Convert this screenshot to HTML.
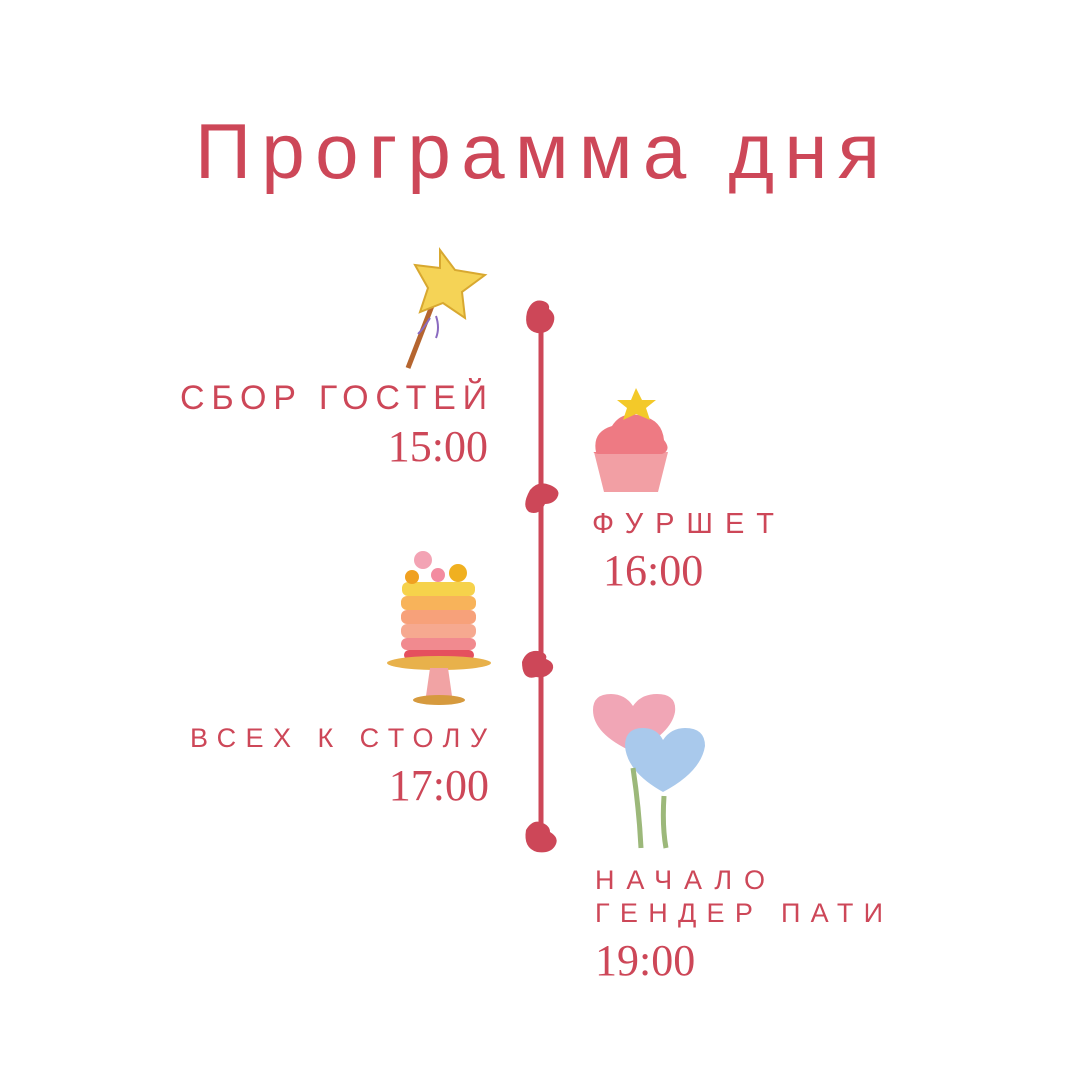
<!DOCTYPE html>
<html><head><meta charset="utf-8"><style>html,body{margin:0;padding:0;background:#fff}</style></head>
<body>
<svg width="1080" height="1080" viewBox="0 0 1080 1080" xmlns="http://www.w3.org/2000/svg">
<rect width="1080" height="1080" fill="#fff"/>
<g fill="#cd4758" font-family="Liberation Sans, sans-serif">
<text x="195" y="178" font-size="78" textLength="685" lengthAdjust="spacing">Программа дня</text>
<text x="180" y="409" font-size="34" textLength="307" lengthAdjust="spacing">СБОР ГОСТЕЙ</text>
<text x="592" y="533" font-size="29" textLength="182" lengthAdjust="spacing">ФУРШЕТ</text>
<text x="190" y="747" font-size="27" textLength="297" lengthAdjust="spacing">ВСЕХ К СТОЛУ</text>
<text x="595" y="889" font-size="27" textLength="170" lengthAdjust="spacing">НАЧАЛО</text>
<text x="595" y="922" font-size="27" textLength="288" lengthAdjust="spacing">ГЕНДЕР ПАТИ</text>
</g>
<g fill="#cd4758" font-family="Liberation Serif, serif" font-size="44">
<text x="488" y="461" text-anchor="end">15:00</text>
<text x="603" y="585">16:00</text>
<text x="489" y="800" text-anchor="end">17:00</text>
<text x="595" y="975">19:00</text>
</g>
<line x1="541" y1="315" x2="541" y2="850" stroke="#cd4758" stroke-width="5"/>
<g fill="#cd4758">
<path d="M527 312 q5-14 16-11 q7 2 6 8 q8 6 4 15 q-4 10 -16 9 q-14-3 -10-21z"/>
<path d="M530 490 q8-10 20-5 q12 5 7 13 q-4 6-12 6 q-6 12-16 8 q-8-6 1-22z"/>
<path d="M522 662 q4-12 16-11 q10 2 8 8 q10 4 6 12 q-6 8-16 6 q-14 4-14-15z"/>
<path d="M526 830 q6-10 14-8 q10 3 10 10 q10 6 5 14 q-5 8-18 6 q-14-4-11-22z"/>
</g>
<line x1="408" y1="368" x2="435" y2="298" stroke="#b5652f" stroke-width="5"/>
<path d="M430 318 q-6 10-12 16 M436 316 q4 12 0 22" stroke="#8a6ac0" stroke-width="2" fill="none"/>
<polygon points="440,250 455,270 485,275 462,292 465,318 443,303 420,312 428,288 415,265 440,268" fill="#f5d356" stroke="#d8a830" stroke-width="2"/>
<path d="M594 452 h74 l-10 40 h-54z" fill="#f29fa4"/>
<path d="M596 452 q-4-20 16-26 q10-16 30-10 q20 4 22 24 q8 10 -2 14 h-64 q-8-2-2-2z" fill="#ee7a83"/>
<polygon points="636,388 642,400 656,400 646,408 650,420 636,414 623,420 627,408 617,400 631,400" fill="#f3c929"/>
<rect x="402" y="582" width="73" height="14" rx="6" fill="#f6d24b"/>
<rect x="401" y="596" width="75" height="14" rx="6" fill="#f8b35a"/>
<rect x="401" y="610" width="75" height="14" rx="6" fill="#f7a17a"/>
<rect x="401" y="624" width="75" height="14" rx="6" fill="#f6a990"/>
<rect x="401" y="638" width="75" height="12" rx="6" fill="#f18a8f"/>
<rect x="404" y="650" width="70" height="10" rx="5" fill="#e5505e"/>
<ellipse cx="439" cy="663" rx="52" ry="7" fill="#e8b14b"/>
<path d="M430 668 h18 l4 28 h-26z" fill="#f1a3a4"/>
<ellipse cx="439" cy="700" rx="26" ry="5" fill="#d69a3e"/>
<circle cx="423" cy="560" r="9" fill="#f3a3b4"/>
<circle cx="412" cy="577" r="7" fill="#f0a020"/>
<circle cx="458" cy="573" r="9" fill="#f0b020"/>
<circle cx="438" cy="575" r="7" fill="#f38ca0"/>
<path d="M633 752 q-40-18-40-42 q0-16 18-16 q14 0 22 12 q8-12 24-12 q20 0 18 18 q-4 22-42 40z" fill="#f1a6b6"/>
<path d="M663 792 q-36-20-38-46 q0-18 18-18 q14 0 20 12 q8-12 22-12 q20 0 20 18 q-4 26-42 46z" fill="#a9c9ec"/>
<path d="M633 768 q6 40 8 80 M664 796 q-2 30 2 52" stroke="#9cb87a" stroke-width="5" fill="none"/>
</svg>
</body></html>
